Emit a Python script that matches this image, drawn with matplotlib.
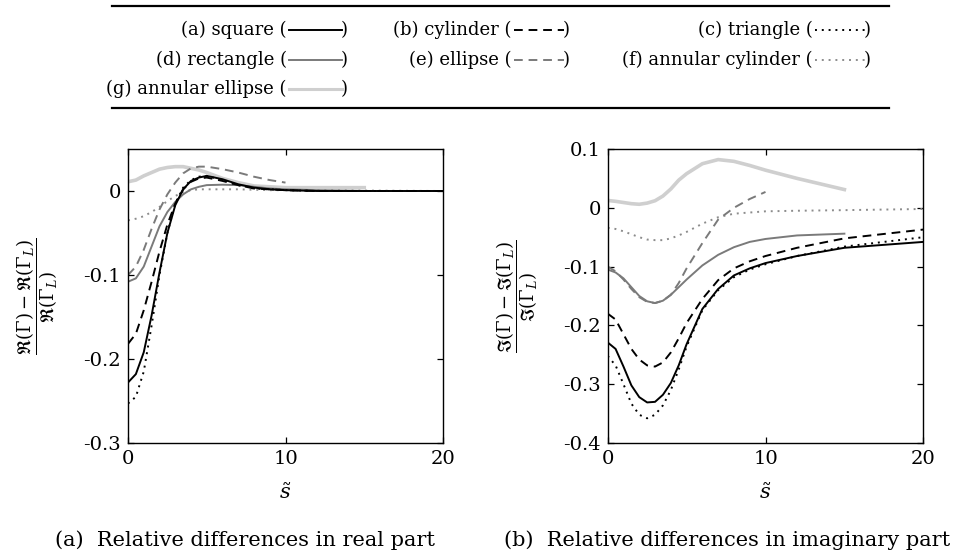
import matplotlib
matplotlib.use("Agg")
import matplotlib.pyplot as plt
from matplotlib.lines import Line2D

plt.rcParams['font.family'] = 'DejaVu Serif'
plt.rcParams['mathtext.fontset'] = 'dejavuserif'
plt.rcParams['font.size'] = 13

# s~ grid (shared by all curves; shorter series stop early)
s = [0, 0.5, 1, 1.5, 2, 2.5, 3, 3.5, 4, 4.5, 5, 6, 7, 8, 9, 10, 12, 15, 20]

# (a) real part
re_square = [-0.228, -0.218, -0.192, -0.148, -0.097, -0.050, -0.017, 0.002, 0.012, 0.016,
             0.018, 0.014, 0.008, 0.004, 0.002, 0.001, 0.0, 0.0, 0.0]
re_cylinder = [-0.182, -0.170, -0.142, -0.108, -0.072, -0.040, -0.015, 0.002, 0.011, 0.015,
               0.016, 0.012, 0.007, 0.003, 0.002, 0.001, 0.0, 0.0, 0.0]
re_triangle = [-0.253, -0.245, -0.215, -0.160, -0.100, -0.050, -0.015, 0.004, 0.013, 0.017,
               0.018, 0.013, 0.007, 0.003, 0.002, 0.001, 0.0, 0.0, 0.0]
re_rectangle = [-0.108, -0.104, -0.090, -0.066, -0.042, -0.025, -0.013, -0.004, 0.002, 0.005,
                0.007, 0.0075, 0.007, 0.005, 0.003, 0.002, 0.001, 0.0]
re_ellipse = [-0.100, -0.090, -0.070, -0.045, -0.022, -0.004, 0.010, 0.021, 0.027, 0.029,
              0.029, 0.026, 0.022, 0.017, 0.013, 0.010]
re_ann_cyl = [-0.035, -0.033, -0.030, -0.025, -0.019, -0.012, -0.006, -0.001, 0.001, 0.002,
              0.002, 0.002, 0.002, 0.0015, 0.001, 0.001, 0.001, 0.0005, 0.0]
re_ann_ell = [0.011, 0.013, 0.018, 0.022, 0.026, 0.028, 0.029, 0.029, 0.027, 0.025,
              0.022, 0.015, 0.010, 0.006, 0.005, 0.004, 0.004, 0.004]

# (b) imaginary part
im_square = [-0.229, -0.240, -0.270, -0.302, -0.322, -0.331, -0.330, -0.318, -0.298, -0.268,
             -0.232, -0.172, -0.138, -0.115, -0.103, -0.094, -0.082, -0.068, -0.058]
im_cylinder = [-0.180, -0.190, -0.215, -0.240, -0.258, -0.268, -0.270, -0.263, -0.246, -0.222,
               -0.196, -0.155, -0.123, -0.103, -0.091, -0.082, -0.068, -0.052, -0.037]
im_triangle = [-0.252, -0.268, -0.300, -0.333, -0.352, -0.358, -0.352, -0.336, -0.310, -0.275,
               -0.236, -0.174, -0.140, -0.118, -0.105, -0.096, -0.082, -0.066, -0.050]
im_rectangle = [-0.105, -0.110, -0.120, -0.135, -0.150, -0.159, -0.162, -0.158, -0.148, -0.135,
                -0.122, -0.098, -0.080, -0.067, -0.058, -0.053, -0.047, -0.044]
im_ellipse = [-0.100, -0.108, -0.122, -0.138, -0.152, -0.160, -0.162, -0.158, -0.148, -0.128,
              -0.103, -0.060, -0.020, 0.000, 0.015, 0.027]
im_ann_cyl = [-0.034, -0.036, -0.040, -0.045, -0.050, -0.054, -0.055, -0.055, -0.052, -0.047,
              -0.041, -0.027, -0.016, -0.010, -0.008, -0.006, -0.005, -0.004, -0.002]
im_ann_ell = [0.0125, 0.011, 0.009, 0.007, 0.006, 0.008, 0.012, 0.020, 0.032, 0.047,
              0.058, 0.075, 0.082, 0.079, 0.072, 0.064, 0.050, 0.031]

names = ["(a) square", "(b) cylinder", "(c) triangle", "(d) rectangle",
         "(e) ellipse", "(f) annular cylinder", "(g) annular ellipse"]
styles = [
    dict(color="black", lw=1.4, ls="-"),
    dict(color="black", lw=1.4, ls=(0, (4.5, 3))),
    dict(color="black", lw=1.4, ls=(0, (1, 2.5))),
    dict(color="#7a7a7a", lw=1.4, ls="-"),
    dict(color="#7a7a7a", lw=1.4, ls=(0, (4.5, 3))),
    dict(color="#8c8c8c", lw=1.4, ls=(0, (1, 2.5))),
    dict(color="#cfcfcf", lw=2.6, ls="-"),
]

W, H = 956, 556
fig = plt.figure(figsize=(W / 100, H / 100), dpi=100)


def fx(px):
    return px / W


def fy(py):
    return 1 - py / H


ax1 = fig.add_axes([fx(128), fy(443), fx(443) - fx(128), fy(149) - fy(443)])
ax2 = fig.add_axes([fx(607.7), fy(443), fx(923.3) - fx(607.7), fy(149) - fy(443)])

re_data = [re_square, re_cylinder, re_triangle, re_rectangle, re_ellipse, re_ann_cyl, re_ann_ell]
im_data = [im_square, im_cylinder, im_triangle, im_rectangle, im_ellipse, im_ann_cyl, im_ann_ell]

# draw light ones first so black curves stay on top
order = [6, 5, 4, 3, 1, 2, 0]
for i in order:
    ax1.plot(s[:len(re_data[i])], re_data[i], **styles[i])
    ax2.plot(s[:len(im_data[i])], im_data[i], **styles[i])

ax1.set_xlim(0, 20)
ax1.set_ylim(-0.3, 0.05)
ax1.set_yticks([0, -0.1, -0.2, -0.3], ["0", "-0.1", "-0.2", "-0.3"])
ax2.set_xlim(0, 20)
ax2.set_ylim(-0.4, 0.1)
ax2.set_yticks([0.1, 0, -0.1, -0.2, -0.3, -0.4], ["0.1", "0", "-0.1", "-0.2", "-0.3", "-0.4"])

for ax in (ax1, ax2):
    ax.set_xticks([0, 10, 20], ["0", "10", "20"])
    ax.tick_params(direction="in", top=True, right=True, length=4, width=0.9, pad=5, labelsize=14)
    for sp in ax.spines.values():
        sp.set_linewidth(1.0)
    ax.set_xlabel(r"$\tilde{s}$", va="center", fontsize=15)
    ax.xaxis.set_label_coords(0.5, -0.17)

ax1.set_ylabel(r"$\dfrac{\Re(\Gamma)-\Re(\Gamma_L)}{\Re(\Gamma_L)}$", va="center", fontsize=13)
ax1.yaxis.set_label_coords((37 - 128) / 315, 0.5)
ax2.set_ylabel(r"$\dfrac{\Im(\Gamma)-\Im(\Gamma_L)}{\Im(\Gamma_L)}$", va="center", fontsize=13)
ax2.yaxis.set_label_coords((517 - 607.7) / 315.6, 0.5)

fig.text(fx(245), fy(540), "(a)  Relative differences in real part", ha="center", va="center",
         fontsize=15)
fig.text(fx(727), fy(540), "(b)  Relative differences in imaginary part", ha="center", va="center",
         fontsize=15)

# legend table with rules
for ry in (6, 108):
    fig.add_artist(Line2D([fx(112), fx(889)], [fy(ry), fy(ry)], color="black", lw=1.6))

col_right = [348, 570, 871]
row_y = [30, 60, 89]
sample_len = [53, 50, 50]
for k, name in enumerate(names):
    row, col = divmod(k, 3)
    R = col_right[col]
    y = fy(row_y[row])
    fig.text(fx(R), y, ")", ha="right", va="center")
    x1 = R - 6
    x0 = x1 - sample_len[col]
    st = styles[k]
    fig.add_artist(Line2D([fx(x0), fx(x1)], [y, y], color=st["color"],
                          lw=min(st["lw"], 2.2), ls=st["ls"]))
    fig.text(fx(x0 - 2), y, name + " (", ha="right", va="center")

fig.savefig("out.png", dpi=100)
